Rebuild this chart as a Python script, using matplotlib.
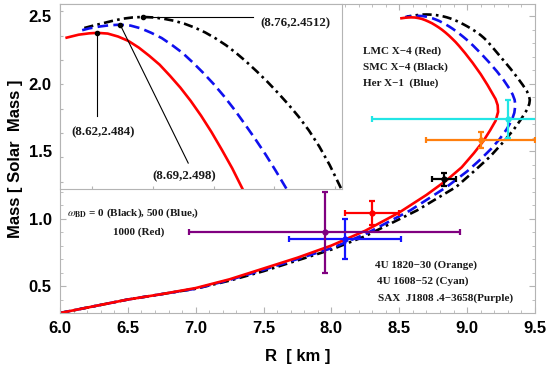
import numpy as np
import matplotlib
matplotlib.use("Agg")
import matplotlib.pyplot as plt
from matplotlib.ticker import MultipleLocator

plt.rcParams['font.family'] = ['Liberation Sans', 'DejaVu Sans']
plt.rcParams['mathtext.fontset'] = 'stix'

# ---- M-R curves (R in km, M in solar mass), from the low-mass end to the top ----
r_red = [6.0, 6.25, 6.5, 6.75, 7.0, 7.25, 7.5, 7.75, 8.0, 8.25, 8.5, 8.7, 8.85,
         8.96, 9.05, 9.12, 9.17, 9.21, 9.228, 9.225, 9.21, 9.19, 9.15, 9.10, 9.04,
         8.985, 8.94, 8.915, 8.89, 8.865, 8.84, 8.815, 8.79, 8.765, 8.74, 8.715,
         8.69, 8.665, 8.64, 8.615, 8.59, 8.57, 8.545, 8.516]
m_red = [0.30, 0.35, 0.40, 0.44, 0.485, 0.55, 0.63, 0.71, 0.80, 0.91, 1.045, 1.175, 1.285,
         1.38, 1.485, 1.575, 1.655, 1.725, 1.79, 1.84, 1.885, 1.92, 1.99, 2.07, 2.155,
         2.226, 2.280, 2.308, 2.333, 2.357, 2.379, 2.399, 2.417, 2.433, 2.448, 2.460,
         2.471, 2.480, 2.486, 2.490, 2.491, 2.4903, 2.4885, 2.4845]

r_blue = [6.0, 6.25, 6.5, 6.75, 7.0, 7.25, 7.5, 7.75, 8.0, 8.25, 8.58, 8.85,
          9.0, 9.10, 9.18, 9.24, 9.29, 9.33, 9.348, 9.355, 9.35, 9.335, 9.31, 9.27,
          9.22, 9.16, 9.10, 9.045, 9.02, 8.995, 8.97, 8.945, 8.92, 8.895, 8.87,
          8.845, 8.82, 8.795, 8.77, 8.745, 8.72, 8.695, 8.67, 8.645, 8.62, 8.595,
          8.57, 8.543]
m_blue = [0.30, 0.35, 0.40, 0.44, 0.48, 0.545, 0.62, 0.70, 0.78, 0.885, 1.06, 1.235,
          1.35, 1.44, 1.52, 1.59, 1.66, 1.73, 1.785, 1.84, 1.88, 1.92, 1.965, 2.025,
          2.09, 2.16, 2.225, 2.281, 2.3045, 2.327, 2.348, 2.368, 2.3875, 2.4055, 2.422,
          2.437, 2.451, 2.464, 2.4745, 2.484, 2.491, 2.497, 2.5008, 2.502, 2.5013, 2.4995,
          2.497, 2.493]

r_black = [6.0, 6.25, 6.5, 6.75, 7.0, 7.25, 7.5, 7.75, 8.0, 8.25, 8.63, 8.92,
           9.05, 9.17, 9.26, 9.34, 9.40, 9.44, 9.458, 9.462, 9.455, 9.44, 9.41, 9.37,
           9.32, 9.27, 9.22, 9.175, 9.15, 9.125, 9.10, 9.075, 9.05, 9.025, 9.0,
           8.975, 8.95, 8.925, 8.90, 8.875, 8.85, 8.825, 8.80, 8.775, 8.75, 8.725,
           8.70, 8.675, 8.65, 8.625, 8.60, 8.575, 8.555]
m_black = [0.30, 0.35, 0.40, 0.44, 0.48, 0.54, 0.61, 0.69, 0.77, 0.87, 1.06, 1.235,
           1.35, 1.46, 1.56, 1.655, 1.74, 1.805, 1.85, 1.88, 1.91, 1.945, 1.99, 2.045,
           2.11, 2.17, 2.23, 2.2835, 2.3123, 2.3373, 2.359, 2.3778, 2.3945, 2.41, 2.4248,
           2.4385, 2.4515, 2.4635, 2.4743, 2.4835, 2.4915, 2.498, 2.5033, 2.5073, 2.510,
           2.5118, 2.5125, 2.5118, 2.510, 2.507, 2.5035, 2.500, 2.497]

# ---- observed stars: LMC X-4, SMC X-4, Her X-1, 4U 1820-30, 4U 1608-52, SAX J1808.4-3658 ----
obs_r = [8.301, 8.831, 8.1, 9.1, 9.3, 7.951]
obs_rerr = [0.2, 0.09, 0.41, 0.4, 1.0, 1.0]
obs_m = [1.04, 1.29, 0.85, 1.58, 1.74, 0.9]
obs_merr = [0.09, 0.05, 0.15, 0.06, 0.14, 0.3]
obs_col = ['#ff0000', '#000000', '#1414ff', '#ff7f0e', '#22e5e5', '#800080']

peak_labels = ['(8.62,2.484)', '(8.69,2.498)', '(8.76,2.4512)']

fig = plt.figure(figsize=(5.5, 3.72), dpi=100)
ax = fig.add_axes([0.1091, 0.1586, 0.8636, 0.8306])

frame_col = '#b4b4b4'
styles = [
    (r_black, m_black, dict(color='black', ls=(0, (3.5, 1.6, 1, 1.6)), lw=1.9)),
    (r_blue, m_blue, dict(color='#1010ee', ls=(0, (4, 2)), lw=1.9)),
    (r_red, m_red, dict(color='red', ls='-', lw=1.9)),
]
for r, m, kw in styles:
    ax.plot(r, m, **kw)

for x, xe, y, ye, c in zip(obs_r, obs_rerr, obs_m, obs_merr, obs_col):
    ax.errorbar(x, y, xerr=xe, yerr=ye, fmt='o', ms=3.5, color=c, ecolor=c,
                elinewidth=1.6, capsize=2.5, capthick=1.6, zorder=4)

ax.set_xlim(6.0, 9.5)
ax.set_ylim(0.3, 2.59)
ax.xaxis.set_major_locator(MultipleLocator(0.5))
ax.xaxis.set_minor_locator(MultipleLocator(0.1))
ax.yaxis.set_major_locator(MultipleLocator(0.5))
ax.yaxis.set_minor_locator(MultipleLocator(0.1))
ax.tick_params(which='both', direction='in', top=True, right=True, color=frame_col,
               labelsize=12, pad=6)
ax.tick_params(which='major', length=4.5)
ax.tick_params(which='minor', length=2.5)
for lab in ax.get_xticklabels() + ax.get_yticklabels():
    lab.set_fontweight('bold')
for s in ax.spines.values():
    s.set_color(frame_col)
ax.set_xlabel('R  [ km ]', fontsize=12, fontweight='bold', labelpad=9)
ax.set_ylabel('Mass [ Solar  Mass ]', fontsize=12, fontweight='bold', labelpad=4)

tkw = dict(fontsize=8, fontweight='bold', family='Liberation Serif', color='#1a1a1a',
           va='center')
ax.text(8.23, 2.24, 'LMC X\u22124 (Red)', **tkw)
ax.text(8.23, 2.124, 'SMC X\u22124 (Black)', **tkw)
ax.text(8.23, 2.006, 'Her X\u22121  (Blue)', **tkw)
ax.text(8.32, 0.656, '4U 1820\u221230 (Orange)', **tkw)
ax.text(8.336, 0.537, '4U 1608\u221252 (Cyan)', **tkw)
ax.text(8.34, 0.413, 'SAX  J1808 .4\u22123658(Purple)', **tkw)
ax.text(6.05, 1.04, r'$\omega_{\mathbf{BD}}$ = 0 (Black), 500 (Blue,)', **tkw)
ax.text(6.39, 0.9, '1000 (Red)', **tkw)

# ---- inset zoom on the maximum mass ----
ins = fig.add_axes([0.1091, 0.492, 0.513, 0.4973])
ins.set_facecolor('white')
for r, m, kw in styles:
    ins.plot(r, m, **kw)
ins.set_xlim(8.5, 9.18)
ins.set_ylim(2.28, 2.53)
ins.set_xticks(np.linspace(8.577, 9.163, 5))
ins.set_yticks(np.linspace(2.29, 2.52, 8))
ins.tick_params(direction='in', length=2, color=frame_col, labelbottom=False,
                labelleft=False)
for s in ins.spines.values():
    s.set_color(frame_col)

ikw = dict(tkw, fontsize=9.3)
curves = [(r_red, m_red), (r_blue, m_blue), (r_black, m_black)]
ends = [(None, 2.379), (8.809, 2.315), (8.965, None)]
text_pos = [(8.604, 2.357, 'center'), (8.799, 2.297, 'center'), (8.982, 2.5035, 'left')]
for (r, m), lab, end, tp in zip(curves, peak_labels, ends, text_pos):
    i = int(np.argmax(m))
    px, py = r[i], m[i]
    ex, ey = end
    ex = px if ex is None else ex
    ey = py if ey is None else ey
    ins.plot([px, ex], [py, ey], color='black', lw=0.8)
    ins.plot(px, py, 'o', color='black', ms=3)
    ins.text(tp[0], tp[1], lab, ha=tp[2], **ikw)

fig.savefig('out.png', dpi=100)
